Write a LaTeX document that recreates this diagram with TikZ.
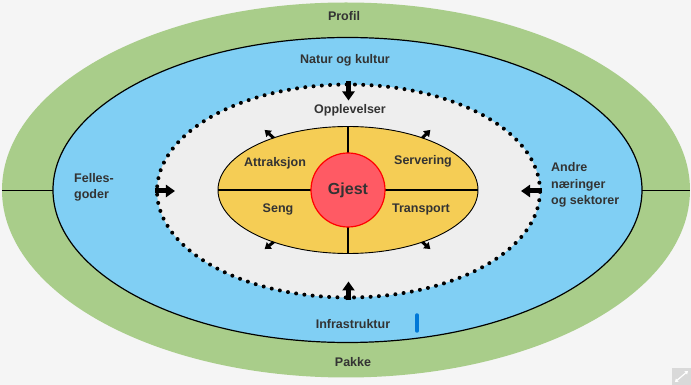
\documentclass[tikz,border=0pt]{standalone}
\usepackage{fontspec}
\setmainfont{Liberation Sans}
\usetikzlibrary{arrows.meta,shapes.geometric}
\definecolor{ringgreen}{RGB}{169,205,138}
\definecolor{ringblue}{RGB}{128,207,244}
\definecolor{coregray}{RGB}{238,238,238}
\definecolor{coreyellow}{RGB}{245,205,85}
\definecolor{guestred}{RGB}{255,90,100}
\definecolor{labelgray}{RGB}{51,51,51}
\definecolor{barblue}{RGB}{0,120,215}
\tikzset{
  ring/.style={ellipse,inner sep=0pt,outer sep=0pt},
  lbl/.style={font=\bfseries\fontsize{12.5}{16.5}\selectfont,text=labelgray,inner sep=1pt},
  bigarrow/.style={line width=5pt,-{Triangle[width=12pt,length=9pt]}},
  smallarrow/.style={line width=3pt,-{Triangle[width=8pt,length=6pt]}}
}
\begin{document}
\begin{tikzpicture}[x=1pt,y=1pt]
\useasboundingbox (-348,-195) rectangle (343,190);
\fill[gray!8] (-348,-195) rectangle (343,190);
% rings
\node[ring,fill=ringgreen,minimum width=688pt,minimum height=375pt] (profil) at (-2,0) {};
\node[ring,fill=ringblue,draw,line width=1.2pt,minimum width=589pt,minimum height=305pt] (natur) at (-0.5,0) {};
\node[ring,fill=coregray,draw,line width=4pt,line cap=round,dash pattern=on 0pt off 8.3pt,
  minimum width=383pt,minimum height=213pt] (dots) at (0.5,-1) {};
\node[ring,fill=coreyellow,draw,line width=0.9pt,minimum width=260pt,minimum height=127pt] (kjerne) at (0,0) {};
\draw[line width=1.2pt] (kjerne.north)--(kjerne.south) (kjerne.west)--(kjerne.east);
\draw[line width=0.9pt] (profil.west)--(natur.west) (natur.east)--(profil.east);
\node[circle,fill=guestred,draw=red,line width=1.2pt,minimum size=74pt,inner sep=0pt,
  text=labelgray,font=\bfseries\fontsize{16}{18}\selectfont] (gjest) at (0,0) {Gjest};
% arrows
\draw[bigarrow] ([yshift=3pt]dots.north) -- ++(0,-19);
\draw[bigarrow] ([yshift=-3pt]dots.south) -- ++(0,19);
\draw[bigarrow] ([xshift=-2pt]dots.west) -- ++(20,0);
\draw[bigarrow] ([xshift=2pt]dots.east) -- ++(-21,0);
\foreach \a/\dx/\dy in {145/-9/8,35/8/8,215/-9/-7,325/8/-7}
  \draw[smallarrow] (kjerne.\a) -- ++(\dx,\dy);
% labels
\foreach \n/\x/\y/\t in {profiltxt/-4/174/Profil,naturtxt/-3/130/Natur og kultur,
  oppl/2/80/Opplevelser,infra/5/-134/Infrastruktur,pakke/5/-172/Pakke,
  attr/-73/27/Attraksjon,serv/75/29/Servering,seng/-70/-19/Seng,transp/73/-19/Transport}
  \node[lbl] (\n) at (\x,\y) {\t};
\node[lbl,anchor=west,align=left] (felles) at (-275,2.5) {Felles-\\goder};
\node[lbl,anchor=west,align=left] (andre) at (202,5) {Andre\\næringer\\og sektorer};
% cursor bar and corner icon
\draw[barblue,line width=3.5pt,line cap=round] (69,-125) -- (69,-141);
\fill[gray!30] (324,-178) rectangle (343,-195);
\draw[white,line width=1.2pt,{Triangle[width=4pt,length=3pt]}-{Triangle[width=4pt,length=3pt]}] (327,-192) -- (340,-181);
\end{tikzpicture}
\end{document}
